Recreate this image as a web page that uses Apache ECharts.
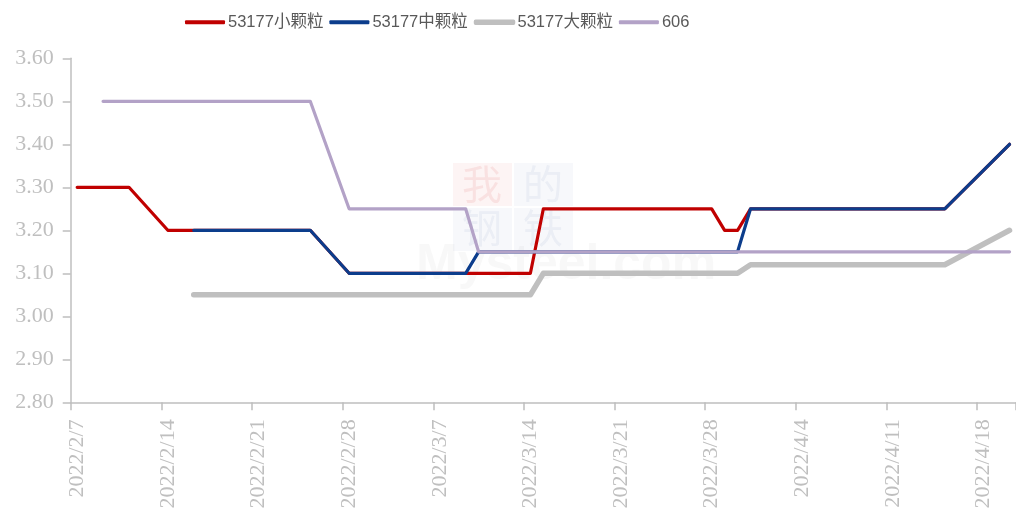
<!DOCTYPE html>
<html>
<head>
<meta charset="utf-8">
<title>53177 颗粒价格走势</title>
<script src="https://cdn.jsdelivr.net/npm/echarts@6/dist/echarts.min.js"></script>
<style>
  html, body { margin: 0; padding: 0; background: #fff; }
  #chart { width: 1016px; height: 516px; }
</style>
</head>
<body>
<div id="chart"></div>
<script>
// 日期（自然日，周末为空值）
const dates = [
  '2022/2/7', '2022/2/8', '2022/2/9', '2022/2/10', '2022/2/11', '2022/2/12', '2022/2/13',
  '2022/2/14', '2022/2/15', '2022/2/16', '2022/2/17', '2022/2/18', '2022/2/19', '2022/2/20',
  '2022/2/21', '2022/2/22', '2022/2/23', '2022/2/24', '2022/2/25', '2022/2/26', '2022/2/27',
  '2022/2/28', '2022/3/1', '2022/3/2', '2022/3/3', '2022/3/4', '2022/3/5', '2022/3/6',
  '2022/3/7', '2022/3/8', '2022/3/9', '2022/3/10', '2022/3/11', '2022/3/12', '2022/3/13',
  '2022/3/14', '2022/3/15', '2022/3/16', '2022/3/17', '2022/3/18', '2022/3/19', '2022/3/20',
  '2022/3/21', '2022/3/22', '2022/3/23', '2022/3/24', '2022/3/25', '2022/3/26', '2022/3/27',
  '2022/3/28', '2022/3/29', '2022/3/30', '2022/3/31', '2022/4/1', '2022/4/2', '2022/4/3',
  '2022/4/4', '2022/4/5', '2022/4/6', '2022/4/7', '2022/4/8', '2022/4/9', '2022/4/10',
  '2022/4/11', '2022/4/12', '2022/4/13', '2022/4/14', '2022/4/15', '2022/4/16', '2022/4/17',
  '2022/4/18', '2022/4/19', '2022/4/20'
]

const seriesNames = ['53177小颗粒', '53177中颗粒', '53177大颗粒', '606']

const small = [
  3.30, 3.30, 3.30, 3.30, 3.30, null, null,
  3.20, 3.20, 3.20, 3.20, 3.20, null, null,
  3.20, 3.20, 3.20, 3.20, 3.20, null, null,
  3.10, 3.10, 3.10, 3.10, 3.10, null, null,
  3.10, 3.10, 3.10, 3.10, 3.10, null, null,
  3.10, 3.25, 3.25, 3.25, 3.25, null, null,
  3.25, 3.25, 3.25, 3.25, 3.25, null, null,
  3.25, 3.20, 3.20, 3.25, 3.25, null, null,
  3.25, 3.25, 3.25, 3.25, 3.25, null, null,
  3.25, 3.25, 3.25, 3.25, 3.25, null, null,
  null, null, 3.40
]

const medium = [
  null, null, null, null, null, null, null,
  null, null, 3.20, 3.20, 3.20, null, null,
  3.20, 3.20, 3.20, 3.20, 3.20, null, null,
  3.10, 3.10, 3.10, 3.10, 3.10, null, null,
  3.10, 3.10, 3.10, 3.15, 3.15, null, null,
  3.15, 3.15, 3.15, 3.15, 3.15, null, null,
  3.15, 3.15, 3.15, 3.15, 3.15, null, null,
  3.15, 3.15, 3.15, 3.25, 3.25, null, null,
  3.25, 3.25, 3.25, 3.25, 3.25, null, null,
  3.25, 3.25, 3.25, 3.25, 3.25, null, null,
  null, null, 3.40
]

const large = [
  null, null, null, null, null, null, null,
  null, null, 3.05, 3.05, 3.05, null, null,
  3.05, 3.05, 3.05, 3.05, 3.05, null, null,
  3.05, 3.05, 3.05, 3.05, 3.05, null, null,
  3.05, 3.05, 3.05, 3.05, 3.05, null, null,
  3.05, 3.10, 3.10, 3.10, 3.10, null, null,
  3.10, 3.10, 3.10, 3.10, 3.10, null, null,
  3.10, 3.10, 3.10, 3.12, 3.12, null, null,
  3.12, 3.12, 3.12, 3.12, 3.12, null, null,
  3.12, 3.12, 3.12, 3.12, 3.12, null, null,
  null, null, 3.20
]

const p606 = [
  null, null, 3.50, 3.50, 3.50, null, null,
  3.50, 3.50, 3.50, 3.50, 3.50, null, null,
  3.50, 3.50, 3.50, 3.50, 3.50, null, null,
  3.25, 3.25, 3.25, 3.25, 3.25, null, null,
  3.25, 3.25, 3.25, 3.15, 3.15, null, null,
  3.15, 3.15, 3.15, 3.15, 3.15, null, null,
  3.15, 3.15, 3.15, 3.15, 3.15, null, null,
  3.15, 3.15, 3.15, 3.15, 3.15, null, null,
  3.15, 3.15, 3.15, 3.15, 3.15, null, null,
  3.15, 3.15, 3.15, 3.15, 3.15, null, null,
  3.15, 3.15, 3.15
]

const colors = ['#C00000', '#0C3D8C', '#BFBFBF', '#B3A2C7']
const widths = [3.2, 3.2, 5.5, 3.2]
const values = [small, medium, large, p606]

const axisGray = '#BFBFBF'
const serif = '"Liberation Serif", "Times New Roman", serif'
const cjkFont = '"Noto Sans CJK SC"'

const chart = echarts.init(document.getElementById('chart'))

const option = {
  animation: false,
  legend: {
    left: 180,
    top: 9,
    itemWidth: 40,
    itemHeight: 4,
    itemGap: 6,
    icon: 'roundRect',
    textStyle: {
      fontFamily: '"Liberation Sans", ' + cjkFont + ', sans-serif',
      fontSize: 16.5,
      color: '#595959',
      padding: [0, 0, 0, -2]
    },
    // 大颗粒图例线更粗
    data: seriesNames.map((name, i) => ({
      name: name,
      itemStyle: i === 2
        ? {color: colors[i], borderColor: colors[i], borderWidth: 1.5}
        : {color: colors[i], borderWidth: 0}
    }))
  },
  grid: {
    left: 70.7,
    right: -3.7,
    top: 58.3,
    bottom: 113.7
  },
  // 水印
  graphic: [
    {type: 'rect', left: 453, top: 163, shape: {width: 59, height: 43}, style: {fill: 'rgba(220,60,60,0.06)'}, z: 0},
    {type: 'rect', left: 514, top: 163, shape: {width: 59, height: 43}, style: {fill: 'rgba(90,110,170,0.05)'}, z: 0},
    {type: 'rect', left: 453, top: 208, shape: {width: 59, height: 43}, style: {fill: 'rgba(90,110,170,0.05)'}, z: 0},
    {type: 'rect', left: 514, top: 208, shape: {width: 59, height: 43}, style: {fill: 'rgba(90,110,170,0.05)'}, z: 0},
    {type: 'text', left: 462, top: 164, style: {text: '我', font: '40px ' + cjkFont, fill: 'rgba(220,60,60,0.10)'}, z: 0},
    {type: 'text', left: 523, top: 164, style: {text: '的', font: '40px ' + cjkFont, fill: 'rgba(90,110,170,0.08)'}, z: 0},
    {type: 'text', left: 462, top: 208, style: {text: '钢', font: '40px ' + cjkFont, fill: 'rgba(90,110,170,0.08)'}, z: 0},
    {type: 'text', left: 523, top: 208, style: {text: '铁', font: '40px ' + cjkFont, fill: 'rgba(90,110,170,0.08)'}, z: 0},
    {type: 'text', left: 416, top: 240, style: {text: 'Mysteel.com', font: 'bold 50px "Liberation Sans"', fill: 'rgba(120,120,120,0.05)'}, z: 0}
  ],
  xAxis: {
    type: 'category',
    data: dates,
    boundaryGap: true,
    axisLine: {lineStyle: {color: axisGray, width: 1.5}},
    axisTick: {
      show: true,
      interval: 6,
      length: 8,
      lineStyle: {color: axisGray, width: 1.5}
    },
    axisLabel: {
      interval: 6,
      rotate: 90,
      margin: 17,
      color: axisGray,
      fontFamily: serif,
      fontSize: 22
    },
    splitLine: {show: false}
  },
  yAxis: {
    type: 'value',
    min: 2.8,
    max: 3.6,
    interval: 0.1,
    axisLine: {show: true, lineStyle: {color: axisGray, width: 1.5}},
    axisTick: {show: true, length: 8, lineStyle: {color: axisGray, width: 1.5}},
    axisLabel: {
      margin: 17,
      color: axisGray,
      fontFamily: serif,
      fontSize: 22,
      formatter: v => v.toFixed(2)
    },
    splitLine: {show: false}
  },
  series: seriesNames.map((name, i) => ({
    name: name,
    type: 'line',
    data: values[i],
    connectNulls: true,
    symbol: 'none',
    color: colors[i],
    lineStyle: {color: colors[i], width: widths[i], cap: 'round', join: 'round'},
    z: 2 + i
  }))
}

chart.setOption(option)
</script>
</body>
</html>
